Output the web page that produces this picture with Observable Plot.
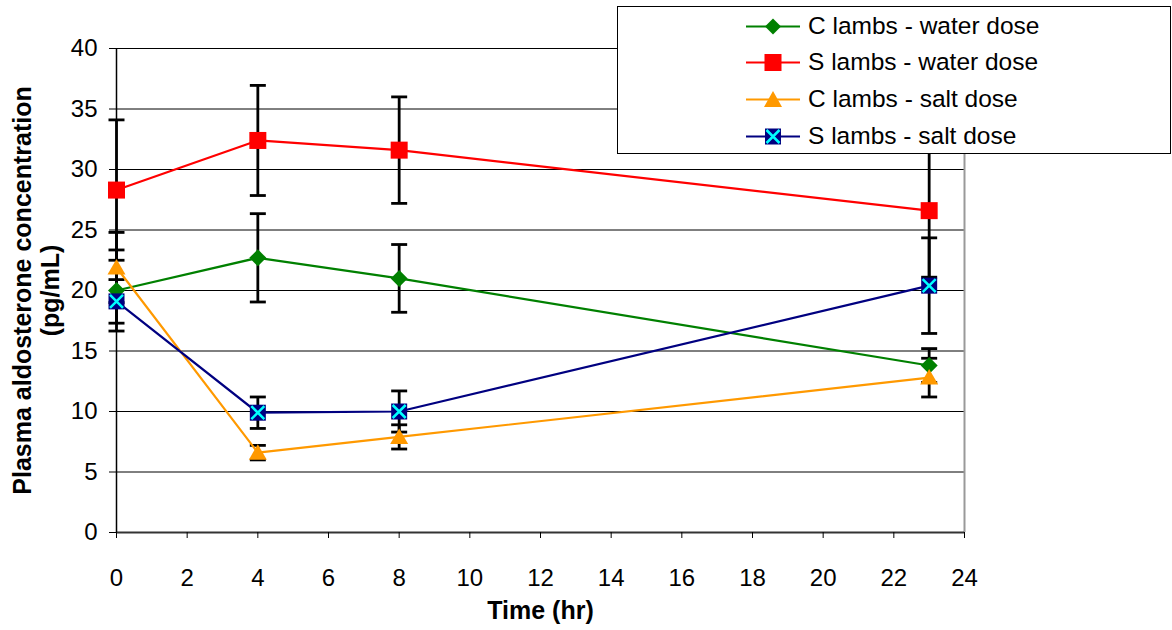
<!DOCTYPE html>
<html>
<head>
<meta charset="utf-8">
<script src="https://cdn.jsdelivr.net/npm/d3@7"></script>
<script src="https://cdn.jsdelivr.net/npm/@observablehq/plot@0.6"></script>
<style>
  html, body { margin: 0; padding: 0; background: #fff; }
  #wrap { position: relative; width: 1172px; height: 630px; font-family: "Liberation Sans", Arial, sans-serif; }
  #legend { position: absolute; left: 617px; top: 6px; width: 552px; height: 146px; border: 1px solid #000; background: #fff; }
  .row { position: absolute; left: 128px; height: 28px; display: flex; align-items: center; font-size: 24.5px; color: #000; white-space: nowrap; }
  .row svg { margin-right: 8px; }
</style>
</head>
<body>
<div id="wrap"><div id="chart"></div><div id="legend"></div></div>
<script>
// ---- data ----
const times = [0, 4, 8, 23];
const seriesNames = ["C lambs - water dose", "S lambs - water dose", "C lambs - salt dose", "S lambs - salt dose"];
const cWater = [20.0, 22.7, 21.0, 13.8];
const cWaterErr = [3.35, 3.65, 2.8, 1.4];
const sWater = [28.3, 32.4, 31.6, 26.6];
const sWaterErr = [5.8, 4.55, 4.4, 5.5];
const cSalt = [21.9, 6.6, 7.9, 12.8];
const cSaltErr = [2.9, 0.6, 1.0, 1.6];
const sSalt = [19.1, 9.9, 10.0, 20.4];
const sSaltErr = [1.8, 1.3, 1.7, 3.95];
const xTicks = [0, 2, 4, 6, 8, 10, 12, 14, 16, 18, 20, 22, 24];
const yTicks = [0, 5, 10, 15, 20, 25, 30, 35, 40];
const xTitle = "Time (hr)";
const yTitle = "Plasma aldosterone concentration\n(pg/mL)";

const colors = ["#008000", "#ff0000", "#ff9900", "#000080"];
const valuesList = [cWater, sWater, cSalt, sSalt];
const errList = [cWaterErr, sWaterErr, cSaltErr, sSaltErr];

const rows = [];
seriesNames.forEach((name, s) => {
  times.forEach((t, i) => {
    rows.push({series: name, s, t, v: valuesList[s][i], lo: valuesList[s][i] - errList[s][i], hi: valuesList[s][i] + errList[s][i]});
  });
});

const capSymbol = { draw(ctx) { ctx.moveTo(-8, 0); ctx.lineTo(8, 0); } };
const diamondSym = { draw(ctx) { const r = 8.5; ctx.moveTo(0, -r); ctx.lineTo(r, 0); ctx.lineTo(0, r); ctx.lineTo(-r, 0); ctx.closePath(); } };
const squareSym = (h) => ({ draw(ctx) { ctx.rect(-h, -h, 2 * h, 2 * h); } });
const triSym = { draw(ctx) { ctx.moveTo(0, -8.5); ctx.lineTo(9, 7); ctx.lineTo(-9, 7); ctx.closePath(); } };
const crossSym = { draw(ctx) { const r = 6.5; ctx.moveTo(-r, -r); ctx.lineTo(r, r); ctx.moveTo(-r, r); ctx.lineTo(r, -r); } };

const bySeries = (s) => rows.filter(d => d.s === s);

const chart = Plot.plot({
  width: 1172,
  height: 630,
  marginLeft: 116,
  marginRight: 208,
  marginTop: 48,
  marginBottom: 98,
  style: { fontFamily: "'Liberation Sans', Arial, sans-serif", fontSize: "24px", color: "#000", background: "#fff" },
  x: { domain: [0, 24], label: null },
  y: { domain: [0, 40], label: null },
  marks: [
    Plot.ruleY(yTicks.filter(d => d > 0), { y: d => d, stroke: "#000", strokeWidth: 1 }),
    Plot.ruleX([24], { x: d => d, stroke: "#999", strokeWidth: 2 }),
    Plot.ruleY([0], { y: d => d, stroke: "#333", strokeWidth: 2 }),
    Plot.ruleX([0], { x: d => d, stroke: "#000", strokeWidth: 1.5 }),
    Plot.axisX({ ticks: xTicks, tickSize: 6, tickPadding: 30, fontSize: 24, tickFormat: d => d, label: null }),
    Plot.axisY({ ticks: yTicks, tickSize: 7, tickPadding: 12, fontSize: 24, tickFormat: d => d, label: null }),
    // error bars
    Plot.ruleX(rows, { x: "t", y1: "lo", y2: "hi", stroke: "#000", strokeWidth: 2.8 }),
    Plot.dot(rows, { x: "t", y: "lo", symbol: capSymbol, stroke: "#000", strokeWidth: 2.8, fill: "none", r: 5 }),
    Plot.dot(rows, { x: "t", y: "hi", symbol: capSymbol, stroke: "#000", strokeWidth: 2.8, fill: "none", r: 5 }),
    // lines
    ...[0, 1, 2, 3].map(s => Plot.line(bySeries(s), { x: "t", y: "v", stroke: colors[s], strokeWidth: 2.2 })),
    // markers
    Plot.dot(bySeries(0), { x: "t", y: "v", symbol: diamondSym, fill: colors[0], r: 5 }),
    Plot.dot(bySeries(1), { x: "t", y: "v", symbol: squareSym(8.5), fill: colors[1], r: 5 }),
    Plot.dot(bySeries(2), { x: "t", y: "v", symbol: triSym, fill: colors[2], r: 5 }),
    Plot.dot(bySeries(3), { x: "t", y: "v", symbol: squareSym(8), fill: colors[3], r: 5 }),
    Plot.dot(bySeries(3), { x: "t", y: "v", symbol: crossSym, stroke: "#00ffff", strokeWidth: 2.5, fill: "none", r: 5 }),
    // titles
    Plot.text([xTitle], { text: d => d, frameAnchor: "bottom", dy: 78, fontWeight: "bold", fontSize: 25, lineAnchor: "middle" }),
    Plot.text([yTitle], { text: d => d, frameAnchor: "left", dx: -80, rotate: -90, textAnchor: "middle", fontWeight: "bold", fontSize: 25, lineAnchor: "middle", lineHeight: 1.12 })
  ]
});
document.getElementById("chart").appendChild(chart);

// ---- legend ----
const legend = document.getElementById("legend");
const rowCenters = [19, 55, 92, 129];
const markerSvg = [
  '<polygon points="27,2.5 35,10.5 27,18.5 19,10.5" fill="#008000"/>',
  '<rect x="18.5" y="2" width="17" height="17" fill="#ff0000"/>',
  '<polygon points="27,2 36,18 18,18" fill="#ff9900"/>',
  '<rect x="19" y="2.5" width="16" height="16" fill="#000080"/><path d="M20.5,4 L33.5,17 M20.5,17 L33.5,4" stroke="#00ffff" stroke-width="2.5"/>'
];
seriesNames.forEach((name, s) => {
  const div = document.createElement("div");
  div.className = "row";
  div.style.top = (rowCenters[s] - 14) + "px";
  div.innerHTML = `<svg width="54" height="21"><line x1="0" y1="10.5" x2="54" y2="10.5" stroke="${colors[s]}" stroke-width="2.2"/>${markerSvg[s]}</svg><span>${name}</span>`;
  legend.appendChild(div);
});
</script>
</body>
</html>
